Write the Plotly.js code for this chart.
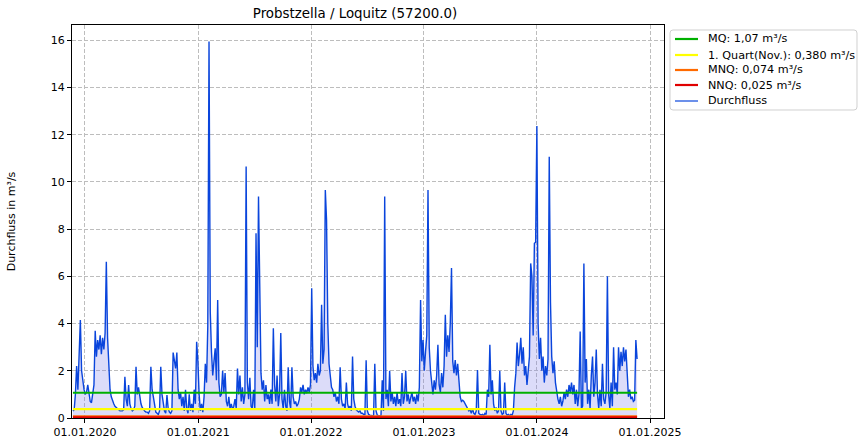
<!DOCTYPE html>
<html><head><meta charset="utf-8">
<script src="https://cdn.plot.ly/plotly-3.0.1.min.js"></script>
<style>html,body{margin:0;padding:0;background:#fff}</style>
</head><body><div id="chart" style="width:864px;height:444px"></div>
<script>
const chartTitle = "Probstzella / Loquitz (57200.0)";
const startDate = "2019-11-23";
const stepDays = 4;
const flow = [
0.3,0.35,1.0,2.2,1.2,2.6,4.15,2.0,1.5,1.2,
1.0,1.1,1.4,0.9,0.7,0.65,1.0,1.4,3.7,2.6,
3.3,2.9,3.5,2.7,3.4,2.9,3.6,6.62,3.4,2.0,
1.2,0.9,0.7,0.6,0.5,0.45,0.4,0.35,0.3,0.3,
0.3,0.35,1.75,0.8,0.5,1.4,0.6,0.4,0.3,0.35,
0.5,2.17,1.0,1.3,0.8,0.6,0.45,0.35,0.3,0.25,
0.25,0.2,0.3,2.17,1.2,0.9,0.6,0.25,0.2,0.15,
0.3,2.17,1.0,0.6,0.3,0.2,0.97,0.4,0.25,0.2,
0.3,2.77,2.5,2.1,2.77,1.2,0.8,1.1,0.5,0.9,
0.3,1.2,0.4,0.2,1.0,0.3,0.6,0.25,1.2,0.6,
3.23,2.4,1.0,0.3,0.6,0.25,0.9,2.3,1.5,3.9,
15.95,4.5,2.8,1.8,2.4,2.95,1.6,5.0,1.5,0.9,
1.0,2.0,1.1,1.9,0.7,0.5,0.9,0.4,0.6,0.35,
0.5,0.8,0.4,2.1,1.0,1.8,0.7,1.3,0.6,1.0,
10.65,1.5,0.8,1.7,0.5,0.4,1.2,0.4,7.83,3.0,
9.38,4.3,1.9,1.2,1.6,0.7,1.4,0.8,1.0,0.6,
1.2,0.6,3.8,1.4,0.7,1.8,0.5,1.0,3.6,0.8,
0.4,1.2,0.5,0.3,2.15,0.7,0.4,2.15,0.9,0.6,
0.7,0.5,0.6,0.8,1.3,1.1,1.4,1.0,1.2,1.05,
1.3,1.1,1.4,5.5,2.2,1.6,1.9,1.5,2.3,1.8,
2.0,4.8,2.3,2.9,9.66,8.4,4.0,2.3,1.7,1.3,
1.2,0.9,1.1,0.7,0.9,0.6,2.15,0.8,0.5,0.6,
0.4,1.5,0.6,0.4,0.5,0.3,2.6,0.8,0.5,0.35,
0.3,0.25,0.3,0.2,0.2,0.15,0.15,2.45,0.3,0.15,
0.12,0.1,0.1,0.1,2.3,0.3,0.12,0.1,0.1,0.1,
1.6,0.3,9.38,0.8,1.2,0.5,2.0,0.7,1.1,0.6,
0.9,0.5,1.1,0.6,0.8,0.5,1.9,0.6,0.9,2.0,
0.7,1.0,0.6,0.8,1.1,0.7,0.9,0.6,1.0,0.7,
1.3,5.0,2.4,3.3,2.0,2.8,3.5,9.66,3.0,2.0,
1.5,1.0,1.6,1.2,1.8,3.1,1.4,1.1,1.9,1.3,
2.2,4.37,2.6,3.5,2.8,4.0,6.35,2.4,1.9,2.45,
1.8,2.3,1.6,0.9,0.7,0.75,0.7,0.6,0.55,0.4,
0.3,0.35,0.2,0.4,0.2,0.15,0.3,2.03,0.2,0.15,
0.12,0.15,0.1,0.2,0.15,1.2,0.9,3.1,1.0,1.6,
0.6,0.3,0.45,0.2,0.3,2.0,0.3,0.15,0.2,1.5,
0.2,0.12,0.15,0.1,0.15,0.12,0.3,1.3,1.9,3.2,
2.2,2.7,3.4,2.3,3.0,1.8,2.2,1.4,2.0,2.6,
6.55,6.0,3.5,7.4,7.45,12.37,4.0,2.5,3.4,2.0,
2.6,1.5,2.2,1.8,2.5,11.07,4.9,2.6,1.9,2.4,
1.5,1.0,0.8,0.6,0.9,0.5,0.7,1.1,0.8,1.2,
0.9,1.4,1.1,1.5,1.0,1.4,0.6,1.2,0.5,1.0,
3.66,0.4,0.5,6.55,1.5,2.5,0.6,1.2,0.4,1.8,
2.6,0.9,1.5,2.9,1.0,0.4,1.2,0.5,2.3,0.8,
0.6,1.1,6.0,1.0,0.4,1.5,0.5,3.0,1.2,1.5,
1.0,3.0,2.0,2.8,2.2,3.0,2.4,2.9,1.5,0.9,
1.2,0.8,0.9,0.7,0.75,3.3,2.5
];
const refNames = ["MQ: 1,07 m³/s", "1. Quart(Nov.): 0,380 m³/s", "MNQ: 0,074 m³/s", "NNQ: 0,025 m³/s"];
const refValues = [1.07, 0.380, 0.074, 0.025];
const refColors = ["#00b000", "#ffff00", "#ff6a00", "#e00000"];
const flowName = "Durchfluss";
const flowColor = "#0a45dc";
const tickDates = ["2020-01-01","2021-01-01","2022-01-01","2023-01-01","2024-01-01","2025-01-01"];
const tickLabels = ["01.01.2020","01.01.2021","01.01.2022","01.01.2023","01.01.2024","01.01.2025"];
const yTicks = [0,2,4,6,8,10,12,14,16];

function addDays(s, n){ const d = new Date(s+"T00:00:00Z"); d.setUTCDate(d.getUTCDate()+n); return d.toISOString().slice(0,10); }
const dates = flow.map((_, i) => addDays(startDate, i*stepDays));

const traces = [{
  x: dates, y: flow, type: "scatter", mode: "lines", name: flowName,
  line: {color: flowColor, width: 1.4}, fill: "tozeroy", fillcolor: "rgba(125,125,232,0.27)"
}];
refValues.forEach((v, k) => {
  traces.push({
    x: [startDate, dates[dates.length-1]], y: [v, v], type: "scatter", mode: "lines",
    name: refNames[k], line: {color: refColors[k], width: 2.2}
  });
});

// plot area in pixels: x 72..664, y 25..418
const L = 72, R = 664, T = 25, B = 418;
const px = p => (p - L) / (R - L);
const py = p => (B - p) / (B - T);

// rounded legend frame
const bx0 = 670, bx1 = 857, by0 = 30, by1 = 110, rr = 3;
const P = (x, y) => px(x).toFixed(5) + "," + py(y).toFixed(5);
const framePath = "M" + P(bx0 + rr, by0) + " L" + P(bx1 - rr, by0) + " Q" + P(bx1, by0) + " " + P(bx1, by0 + rr) +
  " L" + P(bx1, by1 - rr) + " Q" + P(bx1, by1) + " " + P(bx1 - rr, by1) +
  " L" + P(bx0 + rr, by1) + " Q" + P(bx0, by1) + " " + P(bx0, by1 - rr) +
  " L" + P(bx0, by0 + rr) + " Q" + P(bx0, by0) + " " + P(bx0 + rr, by0) + " Z";
const shapes = [{
  type: "path", xref: "paper", yref: "paper", path: framePath,
  line: {color: "#d0d0d0", width: 1}, fillcolor: "rgba(255,255,255,0.9)", layer: "above"
}];
const annotations = [];
const legNames = refNames.concat([flowName]);
const legColors = refColors.concat([flowColor]);
const legWidths = [2.2, 2.2, 2.2, 2.2, 1.2];
const rowY = [39, 55, 70, 85, 101];
legNames.forEach((n, k) => {
  shapes.push({type: "line", xref: "paper", yref: "paper", x0: px(675), x1: px(698), y0: py(rowY[k]), y1: py(rowY[k]),
    line: {color: legColors[k], width: legWidths[k]}, layer: "above"});
  annotations.push({xref: "paper", yref: "paper", x: px(706), y: py(rowY[k]), xanchor: "left", yanchor: "middle",
    text: n, showarrow: false, font: {size: 11.2, family: "DejaVu Sans", color: "#000"}});
});

const layout = {
  width: 864, height: 444,
  margin: {l: L, r: 864 - R, t: T, b: 444 - B},
  paper_bgcolor: "#fff", plot_bgcolor: "#fff",
  font: {family: "DejaVu Sans", size: 11, color: "#000"},
  title: {text: chartTitle, x: 355/864, xanchor: "center", y: 1 - 13/444, yanchor: "middle", font: {size: 13.4, family: "DejaVu Sans"}},
  showlegend: false,
  shapes: shapes, annotations: annotations,
  xaxis: {
    type: "date", range: ["2019-11-20", "2025-02-15"],
    tickvals: tickDates, ticktext: tickLabels, ticks: "outside", ticklen: 4, tickcolor: "#000",
    showline: true, linecolor: "#000", linewidth: 1, mirror: true,
    showgrid: true, gridcolor: "#bdbdbd", griddash: "4px,2px", gridwidth: 1, zeroline: false,
    tickfont: {size: 11}
  },
  yaxis: {
    range: [0, 16.65], tickvals: yTicks, ticks: "outside", ticklen: 4, tickcolor: "#000",
    showline: true, linecolor: "#000", linewidth: 1, mirror: true,
    showgrid: true, gridcolor: "#bdbdbd", griddash: "4px,2px", gridwidth: 1, zeroline: false,
    title: {text: "Durchfluss in m³/s", font: {size: 11}, standoff: 32},
    tickfont: {size: 11}
  }
};
Plotly.newPlot("chart", traces, layout, {displayModeBar: false, staticPlot: true});
</script></body></html>
